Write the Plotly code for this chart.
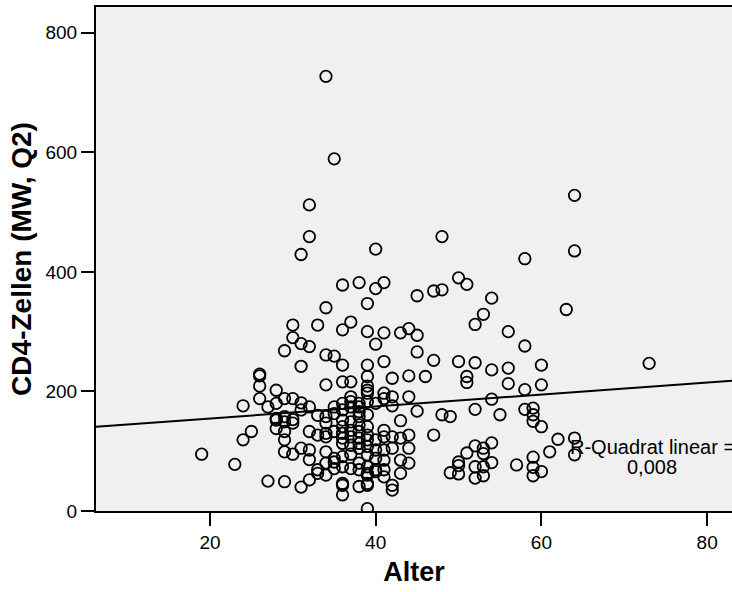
import plotly.graph_objects as go

# Age (Alter) and CD4 cell values, grouped by age
age_groups = [19, 23, 24, 25, 26, 27, 28, 29, 30, 31, 32, 33, 34, 35, 36, 37, 38, 39,
              40, 41, 42, 43, 44, 45, 46, 47, 48, 49, 50, 51, 52, 53, 54, 55, 56, 57,
              58, 59, 60, 61, 62, 63, 64, 73]
cd4_groups = [
    [95],
    [78],
    [176, 119],
    [133],
    [229, 226, 209, 188],
    [174, 50],
    [202, 180, 155, 152, 138],
    [268, 188, 158, 149, 133, 119, 99, 49],
    [311, 290, 188, 153, 147, 95],
    [429, 280, 242, 181, 169, 105, 40],
    [512, 459, 275, 174, 133, 102, 86, 52],
    [311, 160, 127, 69, 63],
    [727, 340, 261, 211, 158, 147, 130, 124, 99, 80, 60],
    [589, 259, 174, 163, 133, 88, 82, 71],
    [378, 303, 244, 216, 180, 169, 152, 141, 130, 122, 113, 91, 74, 46, 43, 27],
    [316, 216, 191, 183, 174, 149, 135, 124, 110, 95, 71],
    [382, 180, 174, 166, 158, 144, 133, 122, 113, 105, 80, 69, 41],
    [347, 300, 244, 225, 209, 202, 197, 183, 161, 141, 127, 119, 108, 94, 74, 63, 60, 46, 43, 4],
    [438, 372, 279, 180, 119, 102, 88, 69, 66],
    [382, 298, 250, 197, 188, 135, 124, 102, 85, 69, 57],
    [222, 191, 176, 124, 105, 43, 35],
    [298, 151, 122, 85, 63],
    [305, 226, 191, 127, 105, 80],
    [360, 294, 266, 167],
    [225],
    [368, 252, 127],
    [459, 370, 161],
    [158, 64],
    [390, 250, 82, 76, 62],
    [379, 225, 215, 97],
    [312, 248, 170, 109, 74, 55],
    [329, 105, 96, 74, 59],
    [356, 236, 187, 114, 81],
    [161],
    [300, 239, 213],
    [77],
    [422, 276, 203, 170],
    [172, 161, 150, 90, 73, 59],
    [244, 211, 141, 66],
    [99],
    [120],
    [337],
    [528, 435, 122, 94],
    [247],
]

alter = [a for a, vals in zip(age_groups, cd4_groups) for _ in vals]
cd4 = [v for vals in cd4_groups for v in vals]

# Linear fit line
fit_intercept = 134.8
fit_slope = 1.0
x_range = [6.25, 83.0]
y_range = [0, 843]
fit_x = x_range
fit_y = [fit_intercept + fit_slope * x for x in fit_x]

r2_label = "R-Quadrat linear ="
r2_value = "0,008"

x_ticks = [20, 40, 60, 80]
y_ticks = [0, 200, 400, 600, 800]

fig = go.Figure()
fig.add_trace(go.Scatter(
    x=alter, y=cd4, mode="markers",
    marker=dict(symbol="circle", size=11.5, color="rgba(0,0,0,0)",
                line=dict(color="black", width=1.8)),
    showlegend=False, hoverinfo="x+y",
))
fig.add_trace(go.Scatter(
    x=fit_x, y=fit_y, mode="lines",
    line=dict(color="black", width=2),
    showlegend=False, hoverinfo="skip",
))

fig.add_annotation(x=73.4, y=107, xref="x", yref="y", text=r2_label,
                   showarrow=False, xanchor="center", yanchor="middle",
                   font=dict(family="Arial", size=20, color="black"))
fig.add_annotation(x=73.4, y=74, xref="x", yref="y", text=r2_value,
                   showarrow=False, xanchor="center", yanchor="middle",
                   font=dict(family="Arial", size=20, color="black"))

fig.update_layout(
    width=732, height=592,
    margin=dict(l=96, r=0, t=7, b=81),
    paper_bgcolor="white", plot_bgcolor="#F0F0F0",
    font=dict(family="Arial", color="black"),
    xaxis=dict(
        range=x_range, tickvals=x_ticks, ticks="outside", ticklen=13, tickwidth=2,
        tickcolor="black", showline=True, linecolor="black", linewidth=2,
        mirror=True, showgrid=False, zeroline=False,
        tickfont=dict(family="Arial", size=19, color="black"),
        title=dict(text="<b>Alter</b>", font=dict(family="Arial", size=27, color="black"),
                   standoff=10),
    ),
    yaxis=dict(
        range=y_range, tickvals=y_ticks, ticks="outside", ticklen=13, tickwidth=2,
        tickcolor="black", showline=True, linecolor="black", linewidth=2,
        showgrid=False, zeroline=False,
        tickfont=dict(family="Arial", size=19, color="black"),
        title=dict(text="<b>CD4-Zellen (MW, Q2)</b>",
                   font=dict(family="Arial", size=28, color="black"), standoff=6),
    ),
)

fig.write_html("out.html")
